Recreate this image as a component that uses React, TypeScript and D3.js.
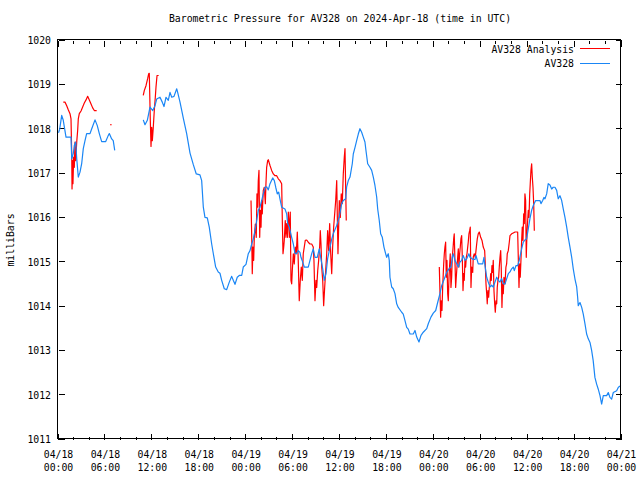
import React from "react";
import * as d3 from "d3";

const title = "Barometric Pressure for AV328 on 2024-Apr-18 (time in UTC)";
const yLabel = "milliBars";
const seriesNames = ["AV328 Analysis", "AV328"];
const seriesColors = ["#ff0000", "#1a86f5"];
const yTicks = [1011, 1012, 1013, 1014, 1015, 1016, 1017, 1018, 1019, 1020];
const xTickHours = [0, 6, 12, 18, 24, 30, 36, 42, 48, 54, 60, 66, 72];
const xTickDates = ["04/18", "04/18", "04/18", "04/18", "04/19", "04/19", "04/19", "04/19", "04/20", "04/20", "04/20", "04/20", "04/21"];
const xTickTimes = ["00:00", "06:00", "12:00", "18:00", "00:00", "06:00", "12:00", "18:00", "00:00", "06:00", "12:00", "18:00", "00:00"];

// AV328 observations: [hours since 2024-04-18 00:00 UTC, mb]
const av328Seg1: [number, number][] = [
  [0.00, 1017.92], [0.15, 1018.00], [0.41, 1018.31], [0.61, 1018.20], [0.96, 1017.82], [1.60, 1017.82],
  [1.69, 1017.33], [1.89, 1017.45], [2.02, 1017.63], [2.20, 1017.71], [2.33, 1017.34], [2.53, 1016.92],
  [2.75, 1017.03], [2.97, 1017.23], [3.17, 1017.56], [3.39, 1017.74], [3.60, 1017.90], [4.03, 1017.90],
  [4.25, 1018.01], [4.67, 1018.21], [4.96, 1018.08], [5.22, 1017.90], [5.52, 1017.72], [6.04, 1017.72],
  [6.37, 1017.86], [6.50, 1017.90], [6.80, 1017.78], [7.00, 1017.74], [7.19, 1017.52],
];

const av328Seg2: [number, number][] = [
  [10.84, 1018.21], [11.06, 1018.10], [11.36, 1018.20], [11.61, 1018.42], [11.70, 1018.50], [12.05, 1018.42],
  [12.34, 1018.53], [12.56, 1018.68], [12.98, 1018.72], [13.27, 1018.61], [13.49, 1018.51], [13.75, 1018.72],
  [14.04, 1018.65], [14.26, 1018.83], [14.48, 1018.72], [14.77, 1018.74], [15.12, 1018.91], [15.24, 1018.83],
  [15.54, 1018.61], [15.96, 1018.25], [16.39, 1017.90], [16.82, 1017.46], [17.24, 1017.20], [17.62, 1016.99],
  [18.09, 1016.97], [18.31, 1016.84], [18.52, 1016.24], [18.73, 1016.01], [19.03, 1016.00], [19.28, 1015.79],
  [19.59, 1015.41], [19.80, 1015.19], [20.10, 1014.89], [20.43, 1014.78], [20.65, 1014.75], [20.87, 1014.59],
  [21.20, 1014.40], [21.51, 1014.38], [21.84, 1014.55], [22.15, 1014.68], [22.35, 1014.59], [22.57, 1014.50],
  [22.86, 1014.66], [23.12, 1014.70], [23.43, 1014.70], [23.63, 1014.89], [23.98, 1014.95], [24.27, 1015.19],
  [24.49, 1015.26], [24.71, 1015.41], [24.91, 1015.52], [25.13, 1015.72], [25.35, 1015.94], [25.55, 1016.17],
  [25.77, 1016.24], [25.98, 1016.39], [26.19, 1016.54], [26.41, 1016.69], [26.62, 1016.70], [26.83, 1016.63],
  [27.05, 1016.77], [27.39, 1016.90], [27.60, 1016.84], [27.78, 1016.69], [27.98, 1016.54], [28.16, 1016.58],
  [28.32, 1016.43], [28.54, 1016.24], [28.96, 1016.20], [29.18, 1016.09], [29.31, 1015.87], [29.51, 1015.79],
  [29.82, 1015.56], [30.03, 1015.41], [30.24, 1015.20], [30.46, 1015.19], [30.66, 1015.26], [30.88, 1015.22],
  [31.01, 1015.11], [31.23, 1015.00], [31.43, 1014.89], [31.94, 1014.89], [32.16, 1015.04], [32.38, 1015.19],
  [32.58, 1015.30], [32.80, 1015.11], [33.09, 1015.11], [33.35, 1015.30], [33.53, 1015.11], [33.79, 1014.85],
  [33.99, 1014.59], [34.21, 1014.74], [34.42, 1015.08], [34.72, 1015.34], [34.94, 1015.52], [35.14, 1015.64],
  [35.58, 1015.83], [35.91, 1016.02], [36.21, 1016.32], [36.42, 1016.39], [36.73, 1016.43], [36.85, 1016.70],
  [37.06, 1016.84], [37.28, 1016.92], [37.57, 1017.22], [37.70, 1017.44], [37.92, 1017.59], [38.13, 1017.74],
  [38.34, 1017.89], [38.55, 1018.01], [38.77, 1017.93], [38.98, 1017.82], [39.19, 1017.71], [39.32, 1017.52],
  [39.54, 1017.22], [39.83, 1017.14], [40.05, 1017.07], [40.26, 1016.92], [40.47, 1016.73], [40.69, 1016.47],
  [40.82, 1016.20], [41.02, 1015.94], [41.20, 1015.64], [41.41, 1015.56], [41.62, 1015.34], [41.84, 1015.19],
  [41.97, 1015.11], [42.17, 1015.19], [42.30, 1015.04], [42.39, 1014.66], [42.61, 1014.44], [42.81, 1014.40],
  [43.03, 1014.29], [43.25, 1014.06], [43.45, 1013.98], [43.89, 1013.87], [44.09, 1013.83], [44.31, 1013.68],
  [44.53, 1013.53], [44.73, 1013.49], [44.95, 1013.38], [45.37, 1013.38], [45.59, 1013.46], [45.81, 1013.31],
  [46.10, 1013.20], [46.36, 1013.35], [46.65, 1013.42], [47.09, 1013.50], [47.29, 1013.61], [47.63, 1013.76],
  [47.93, 1013.85], [48.24, 1013.91], [48.49, 1014.09], [48.78, 1014.29], [49.00, 1014.47], [49.33, 1014.62],
  [49.64, 1014.77], [49.94, 1014.85], [50.19, 1014.89], [50.36, 1015.11], [50.49, 1015.19], [50.70, 1015.04],
  [51.13, 1014.89], [51.34, 1015.00], [51.56, 1015.04], [51.76, 1015.15], [51.98, 1015.04], [52.19, 1015.07],
  [52.49, 1015.19], [52.62, 1015.11], [53.04, 1015.06], [53.26, 1015.06], [53.39, 1015.15], [53.68, 1014.96],
  [54.25, 1014.96], [54.41, 1015.11], [54.54, 1014.92], [54.76, 1014.66], [54.96, 1014.55], [55.18, 1014.44],
  [55.39, 1014.48], [55.60, 1014.44], [55.82, 1014.55], [56.04, 1014.66], [56.24, 1014.59], [56.46, 1014.55],
  [56.67, 1014.63], [56.88, 1014.51], [57.10, 1014.51], [57.32, 1014.63], [57.52, 1014.74], [57.74, 1014.78],
  [57.95, 1014.85], [58.16, 1014.89], [58.29, 1014.81], [58.50, 1014.92], [58.72, 1014.92], [58.92, 1015.04],
  [59.10, 1015.19], [59.23, 1015.30], [59.44, 1015.45], [59.65, 1015.50], [59.87, 1015.53], [60.08, 1015.75],
  [60.29, 1015.98], [60.51, 1016.17], [60.72, 1016.28], [61.02, 1016.39], [61.57, 1016.39], [61.70, 1016.32],
  [61.92, 1016.39], [62.08, 1016.46], [62.21, 1016.43], [62.43, 1016.54], [62.63, 1016.77], [62.85, 1016.74],
  [63.07, 1016.65], [63.27, 1016.69], [63.49, 1016.69], [63.71, 1016.62], [63.91, 1016.43], [64.13, 1016.50],
  [64.35, 1016.39], [64.55, 1016.20], [64.77, 1016.01], [64.99, 1015.79], [65.19, 1015.56], [65.41, 1015.34],
  [65.63, 1015.11], [65.83, 1014.85], [66.05, 1014.62], [66.27, 1014.44], [66.39, 1014.21], [66.47, 1014.02],
  [66.69, 1014.09], [66.91, 1013.98], [67.11, 1013.83], [67.33, 1013.61], [67.54, 1013.38], [67.75, 1013.27],
  [67.97, 1013.19], [68.18, 1013.01], [68.38, 1012.78], [68.60, 1012.40], [68.82, 1012.25], [69.02, 1012.14],
  [69.25, 1011.99], [69.46, 1011.80], [69.67, 1011.99], [70.10, 1011.99], [70.31, 1012.06], [70.52, 1011.95],
  [70.74, 1011.91], [70.95, 1012.06], [71.38, 1012.10], [71.60, 1012.18], [71.92, 1012.22],
];

// AV328 Analysis
const analysisSeg1: [number, number][] = [
  [0.61, 1018.61], [0.83, 1018.61], [1.05, 1018.53], [1.25, 1018.44], [1.47, 1018.35], [1.60, 1018.23],
  [1.69, 1017.44], [1.73, 1016.65], [1.82, 1017.29], [1.85, 1016.77], [1.94, 1017.37], [2.02, 1017.14],
  [2.11, 1017.71], [2.20, 1017.29], [2.33, 1017.71], [2.45, 1017.97], [2.53, 1018.23], [2.66, 1018.35],
  [2.88, 1018.41], [3.09, 1018.50], [3.30, 1018.59], [3.52, 1018.66], [3.73, 1018.74], [3.94, 1018.66],
  [4.16, 1018.57], [4.37, 1018.48], [4.58, 1018.42], [4.88, 1018.42],
];
const analysisSeg2: [number, number][] = [[6.59, 1018.10], [6.80, 1018.10]];
const analysisSeg3: [number, number][] = [
  [10.84, 1018.76], [10.97, 1018.87], [11.19, 1018.98], [11.40, 1019.14], [11.53, 1019.25], [11.61, 1019.26],
  [11.74, 1018.20], [11.83, 1017.61], [11.92, 1018.04], [12.00, 1017.74], [12.12, 1018.04], [12.25, 1018.42],
  [12.38, 1018.72], [12.47, 1018.95], [12.60, 1019.21], [12.81, 1019.21],
];
const analysisSeg4: [number, number][] = [
  [24.62, 1016.39], [24.71, 1015.56], [24.78, 1014.74], [24.87, 1015.34], [24.96, 1015.04], [25.04, 1015.56],
  [25.17, 1015.86], [25.29, 1015.56], [25.38, 1016.54], [25.47, 1016.24], [25.55, 1016.84], [25.64, 1017.07],
  [25.73, 1015.56], [25.81, 1016.17], [25.90, 1015.79], [25.98, 1016.39], [26.06, 1016.09], [26.19, 1016.62],
  [26.32, 1016.69], [26.45, 1016.32], [26.53, 1016.77], [26.62, 1017.14], [26.75, 1017.29], [26.83, 1017.31],
  [27.05, 1017.18], [27.26, 1017.07], [27.47, 1016.99], [27.69, 1016.95], [27.90, 1016.95], [28.11, 1016.88],
  [28.32, 1016.84], [28.54, 1016.77], [28.62, 1015.98], [28.71, 1015.19], [28.80, 1015.34], [28.87, 1015.49],
  [29.00, 1015.94], [29.09, 1015.56], [29.18, 1015.87], [29.31, 1015.56], [29.39, 1016.13], [29.48, 1015.94],
  [29.56, 1015.56], [29.64, 1016.13], [29.73, 1014.59], [29.82, 1014.51], [29.90, 1014.81], [30.03, 1015.19],
  [30.15, 1014.96], [30.28, 1015.34], [30.41, 1015.19], [30.54, 1015.68], [30.66, 1015.04], [30.79, 1014.13],
  [30.92, 1014.59], [31.05, 1014.89], [31.18, 1014.59], [31.30, 1015.19], [31.43, 1015.34], [31.56, 1015.49],
  [31.74, 1015.50], [31.94, 1015.45], [32.16, 1015.41], [32.38, 1015.41], [32.58, 1015.34], [32.67, 1015.04],
  [32.80, 1014.13], [32.93, 1014.59], [33.02, 1014.43], [33.15, 1014.81], [33.27, 1015.04], [33.40, 1015.34],
  [33.48, 1015.71], [33.57, 1015.41], [33.66, 1014.89], [33.79, 1014.59], [33.91, 1014.02], [34.04, 1014.43],
  [34.17, 1014.81], [34.30, 1015.19], [34.42, 1015.71], [34.55, 1015.26], [34.68, 1015.87], [34.81, 1015.19],
  [34.94, 1014.74], [35.06, 1015.34], [35.19, 1015.79], [35.32, 1016.09], [35.45, 1016.39], [35.58, 1016.84],
  [35.65, 1016.09], [35.74, 1015.19], [35.83, 1015.79], [35.91, 1016.39], [36.04, 1016.01], [36.16, 1016.54],
  [36.29, 1016.32], [36.42, 1016.99], [36.55, 1017.37], [36.64, 1017.56], [36.73, 1016.62], [36.80, 1015.94],
];
const analysisSeg5: [number, number][] = [
  [48.70, 1014.89], [48.79, 1014.29], [48.87, 1013.76], [48.95, 1014.13], [49.04, 1013.91], [49.13, 1014.43],
  [49.26, 1014.96], [49.34, 1015.19], [49.42, 1015.34], [49.51, 1015.45], [49.59, 1014.66], [49.68, 1015.04],
  [49.77, 1014.29], [49.85, 1014.13], [49.94, 1014.66], [50.03, 1014.96], [50.10, 1015.19], [50.19, 1014.43],
  [50.28, 1014.66], [50.36, 1015.11], [50.45, 1015.30], [50.54, 1015.53], [50.61, 1015.64], [50.70, 1015.04],
  [50.79, 1014.43], [50.87, 1014.66], [50.96, 1014.89], [51.05, 1015.11], [51.13, 1015.30], [51.21, 1014.89],
  [51.30, 1015.19], [51.38, 1015.34], [51.47, 1015.53], [51.56, 1015.60], [51.64, 1015.11], [51.73, 1014.36],
  [51.82, 1014.74], [51.89, 1014.59], [51.98, 1015.04], [52.07, 1014.89], [52.15, 1015.11], [52.24, 1015.19],
  [52.33, 1015.34], [52.40, 1015.45], [52.49, 1015.64], [52.58, 1015.71], [52.66, 1015.79], [52.75, 1014.43],
  [52.84, 1014.89], [52.97, 1014.77], [53.04, 1015.11], [53.17, 1015.19], [53.30, 1015.11], [53.39, 1015.26],
  [53.48, 1015.41], [53.56, 1015.53], [53.68, 1015.64], [53.81, 1015.68], [53.99, 1015.56], [54.16, 1015.49],
  [54.32, 1015.34], [54.50, 1015.26], [54.58, 1014.96], [54.67, 1014.51], [54.76, 1014.29], [54.83, 1014.06],
  [54.92, 1014.36], [55.01, 1014.21], [55.09, 1014.43], [55.18, 1014.51], [55.27, 1014.74], [55.35, 1014.59],
  [55.43, 1014.92], [55.52, 1014.77], [55.60, 1015.04], [55.69, 1014.36], [55.78, 1014.06], [55.86, 1013.87],
  [55.95, 1014.13], [56.04, 1014.06], [56.11, 1014.43], [56.20, 1014.59], [56.29, 1014.66], [56.37, 1014.89],
  [56.46, 1015.11], [56.55, 1015.26], [56.62, 1014.89], [56.71, 1013.98], [56.80, 1014.51], [56.88, 1014.29],
  [56.97, 1014.66], [57.10, 1014.51], [57.22, 1014.89], [57.31, 1014.96], [57.39, 1015.19], [57.52, 1015.26],
  [57.65, 1015.45], [57.74, 1015.60], [57.95, 1015.64], [58.16, 1015.66], [58.38, 1015.68], [58.59, 1015.68],
  [58.72, 1015.68], [58.80, 1015.11], [58.89, 1014.43], [58.98, 1014.96], [59.05, 1014.66], [59.14, 1015.04],
  [59.23, 1015.49], [59.31, 1015.79], [59.40, 1015.49], [59.49, 1016.09], [59.57, 1015.87], [59.65, 1016.54],
  [59.74, 1016.39], [59.82, 1015.11], [59.91, 1015.64], [60.00, 1015.94], [60.08, 1016.17], [60.17, 1016.01],
  [60.26, 1016.54], [60.33, 1016.77], [60.42, 1017.07], [60.51, 1017.22], [60.59, 1016.92], [60.68, 1016.69],
  [60.77, 1016.32], [60.85, 1015.71],
];

const av328Segments = [av328Seg1, av328Seg2];
const analysisSegments = [analysisSeg1, analysisSeg2, analysisSeg3, analysisSeg4, analysisSeg5];

const W = 640;
const H = 480;
const left = 58.5;
const right = 621.5;
const top = 40.5;
const bottom = 439.5;
const FONT = "'DejaVu Sans Mono', 'Liberation Mono', monospace";

export default function App() {
  const x = d3.scaleLinear().domain([0, 72]).range([left, right]);
  const y = d3.scaleLinear().domain([1011, 1020]).range([bottom, top]);
  const line = d3
    .line<[number, number]>()
    .x((d) => x(d[0]))
    .y((d) => y(d[1]));
  const minorHours = d3.range(0, 73, 2).filter((h) => h % 6 !== 0);
  const px = (v: number) => Math.round(v) - 0.5;

  return (
    <svg width={W} height={H} style={{ display: "block", position: "absolute", left: 0, top: 0, background: "#fff" }}>
      <rect x={0} y={0} width={W} height={H} fill="#fff" />
      <text x={(left + right) / 2} y={22} textAnchor="middle" fontFamily={FONT} fontSize={9.8} fill="#000">
        {title}
      </text>
      <text
        transform={`translate(14,${(top + bottom) / 2}) rotate(-90)`}
        textAnchor="middle"
        fontFamily={FONT}
        fontSize={9.8}
        fill="#000"
      >
        {yLabel}
      </text>

      {/* y ticks */}
      {yTicks.map((t) => (
        <g key={"y" + t} shapeRendering="crispEdges">
          <line x1={left} x2={left + 6} y1={px(y(t))} y2={px(y(t))} stroke="#000" />
          <line x1={right - 6} x2={right} y1={px(y(t))} y2={px(y(t))} stroke="#000" />
          <text x={51} y={y(t) + 3.5} textAnchor="end" fontFamily={FONT} fontSize={9.8} fill="#000">
            {t}
          </text>
        </g>
      ))}

      {/* x ticks */}
      {xTickHours.map((h, i) => (
        <g key={"x" + h} shapeRendering="crispEdges">
          <line x1={px(x(h))} x2={px(x(h))} y1={bottom} y2={bottom - 6} stroke="#000" />
          <line x1={px(x(h))} x2={px(x(h))} y1={top} y2={top + 6} stroke="#000" />
          <text x={x(h)} y={458} textAnchor="middle" fontFamily={FONT} fontSize={9.8} fill="#000">
            {xTickDates[i]}
          </text>
          <text x={x(h)} y={471} textAnchor="middle" fontFamily={FONT} fontSize={9.8} fill="#000">
            {xTickTimes[i]}
          </text>
        </g>
      ))}
      {minorHours.map((h) => (
        <g key={"m" + h} shapeRendering="crispEdges">
          <line x1={px(x(h))} x2={px(x(h))} y1={bottom} y2={bottom - 3} stroke="#000" />
          <line x1={px(x(h))} x2={px(x(h))} y1={top} y2={top + 3} stroke="#000" />
        </g>
      ))}

      {/* series */}
      {analysisSegments.map((seg, i) => (
        <path key={"a" + i} d={line(seg) || ""} fill="none" stroke={seriesColors[0]} strokeWidth={1.2} strokeLinejoin="round" />
      ))}
      {av328Segments.map((seg, i) => (
        <path key={"b" + i} d={line(seg) || ""} fill="none" stroke={seriesColors[1]} strokeWidth={1.2} strokeLinejoin="round" />
      ))}

      {/* frame */}
      <rect x={left - 1} y={top - 1} width={right - left} height={bottom - top} fill="none" stroke="#000" shapeRendering="crispEdges" />

      {/* legend */}
      {seriesNames.map((n, i) => (
        <g key={n}>
          <text x={574} y={52.5 + i * 14.5} textAnchor="end" fontFamily={FONT} fontSize={9.8} fill="#000">
            {n}
          </text>
          <line x1={580} x2={610} y1={48.5 + i * 14.5} y2={48.5 + i * 14.5} stroke={seriesColors[i]} strokeWidth={1} shapeRendering="crispEdges" />
        </g>
      ))}
    </svg>
  );
}
